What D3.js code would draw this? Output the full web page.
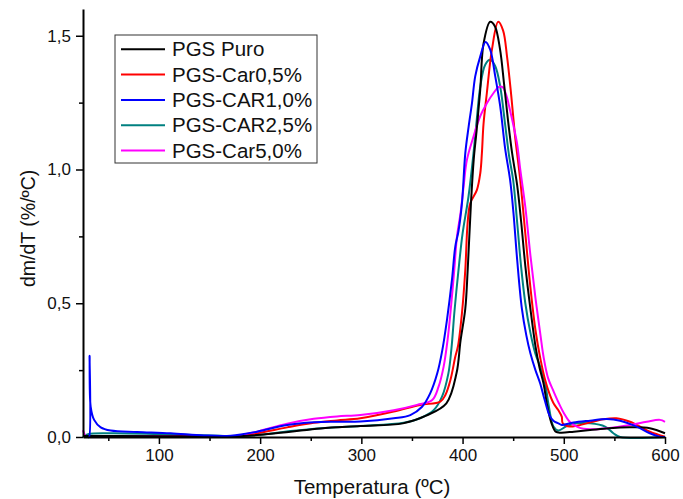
<!DOCTYPE html>
<html>
<head>
<meta charset="utf-8">
<script src="https://cdn.jsdelivr.net/npm/d3@7"></script>
<style>
  body { margin: 0; background: #fff; }
  svg { display: block; font-family: "Liberation Sans", Arial, sans-serif; }
</style>
</head>
<body>
<div id="chart"></div>
<script>
// DTG curves, [temperature ºC, dm/dT %/ºC]
const puro = [[25,0.004],[60,0.004],[100,0.003],[150,0.002],[180,0.003],[200,0.008],[230,0.02],[260,0.032],[299,0.041],[341,0.051],[364,0.08],[384,0.126],[394,0.238],[398,0.36],[402.7,0.48],[405,0.62],[408.3,0.874],[411,1.036],[414,1.15],[417.5,1.3],[420.7,1.47],[427.3,1.552],[432,1.535],[437,1.45],[441,1.32],[445,1.18],[449,1.06],[454,0.94],[458,0.8],[462,0.64],[467,0.48],[472,0.34],[476,0.26],[480,0.2],[484,0.11],[488,0.05],[492,0.02],[497,0.016],[510,0.02],[526,0.026],[545,0.033],[565,0.036],[585,0.033],[600,0.014]];
const car05 = [[25,0.004],[60,0.004],[100,0.003],[150,0.002],[175,0.003],[197,0.014],[226.7,0.036],[253,0.053],[276,0.062],[299,0.07],[332,0.095],[358,0.12],[378,0.132],[383,0.157],[388,0.213],[392.8,0.3],[395.5,0.34],[399.4,0.463],[402.7,0.625],[405,0.8],[407.6,0.874],[414.2,0.924],[417.5,0.986],[419.1,1.061],[420.7,1.17],[424,1.286],[429,1.448],[435.2,1.552],[440,1.52],[444,1.42],[448,1.28],[452,1.12],[457,0.96],[462,0.76],[467,0.56],[472,0.4],[477,0.29],[481.6,0.213],[486,0.16],[490,0.125],[494.7,0.1],[498,0.076],[499,0.051],[506,0.039],[522.7,0.051],[539,0.066],[552,0.07],[565.5,0.057],[585,0.02],[600,0.001]];
const car10 = [[30,0],[31,0],[31.5,0.304],[32.6,0.113],[36,0.064],[42.5,0.036],[52.4,0.024],[78.7,0.019],[111.5,0.014],[144.4,0.006],[171,0.005],[197,0.02],[226.7,0.045],[253,0.055],[276,0.057],[299,0.058],[332,0.07],[348.4,0.082],[360,0.113],[368,0.163],[375,0.238],[380,0.325],[384.6,0.438],[389.5,0.587],[392.8,0.712],[396,0.77],[399.4,0.874],[402.7,1.061],[406,1.16],[409.3,1.248],[412.5,1.348],[417.5,1.423],[422.7,1.477],[427.3,1.448],[432.3,1.348],[437.2,1.236],[442,1.08],[447,0.96],[450.3,0.837],[454,0.66],[458.6,0.48],[463,0.38],[467,0.313],[472,0.25],[476.7,0.2],[481,0.14],[486,0.08],[490,0.06],[494.7,0.051],[498,0.045],[509.5,0.054],[526,0.061],[542.5,0.067],[555.6,0.061],[572,0.039],[585,0.014],[595,0.001],[600,0]];
const car25 = [[25,0],[30,0.01],[50,0.014],[100,0.011],[150,0.006],[180,0.004],[200,0.008],[230,0.022],[260,0.033],[299,0.041],[341.8,0.053],[358,0.07],[371.4,0.1],[379.7,0.151],[386,0.238],[389,0.33],[392,0.47],[396,0.625],[400,0.76],[405.9,0.9],[410.8,1.061],[414,1.186],[417.5,1.31],[422.4,1.392],[427.3,1.41],[432.3,1.386],[437.2,1.31],[442,1.17],[446,1.05],[450,0.96],[454,0.8],[458,0.63],[462,0.5],[467,0.39],[472,0.31],[477,0.26],[481.6,0.2],[485,0.12],[489.8,0.039],[494.7,0.024],[503,0.041],[513,0.051],[526,0.051],[540.8,0.039],[549,0.014],[555.6,0],[600,0]];
const car50 = [[25,0.025],[26.5,0.01],[28,0.003],[60,0.003],[100,0.003],[150,0.002],[175,0.004],[197,0.02],[226.7,0.05],[253,0.068],[276,0.077],[299,0.082],[332,0.1],[355,0.12],[370,0.138],[376.3,0.188],[381.3,0.263],[385.2,0.363],[388,0.463],[391.8,0.625],[394.5,0.75],[398,0.837],[401,0.936],[404.3,1.036],[410.8,1.123],[417.5,1.2],[424,1.248],[430.6,1.286],[435.5,1.308],[439.5,1.308],[443,1.28],[447,1.22],[453.7,1.1],[457,1.0],[462,0.86],[467,0.68],[472,0.52],[477,0.38],[480,0.3],[484.5,0.22],[490,0.17],[494.7,0.13],[500,0.09],[506.3,0.055],[514.5,0.036],[526,0.029],[542.5,0.033],[565.5,0.045],[582,0.057],[595,0.064],[600,0.057]];

const seriesNames = ['PGS Puro', 'PGS-Car0,5%', 'PGS-CAR1,0%', 'PGS-CAR2,5%', 'PGS-Car5,0%'];
const seriesData = [puro, car05, car10, car25, car50];
const seriesColors = ['#000000', '#ff0000', '#0000ff', '#008080', '#ff00ff'];

const xMajor = [100, 200, 300, 400, 500, 600];
const xMinor = [50, 150, 250, 350, 450, 550];
const yMajor = [0, 0.5, 1.0, 1.5];
const yMinor = [0.25, 0.75, 1.25];

const W = 683, H = 499;
const x = d3.scaleLinear().domain([25, 600]).range([83, 665]);
const y = d3.scaleLinear().domain([0, 1.6]).range([437, 9]);
const fmt = d => d3.format('.1f')(d).replace('.', ',');

const svg = d3.select('#chart').append('svg')
  .attr('width', W).attr('height', H);

// Curves
const line = d3.line()
  .x(d => x(d[0])).y(d => y(d[1]))
  .curve(d3.curveCatmullRom.alpha(0.5));

// draw order so overlaps look like the original
[3, 1, 4, 0, 2].forEach(i => {
  svg.append('path')
    .datum(seriesData[i])
    .attr('fill', 'none')
    .attr('stroke', seriesColors[i])
    .attr('stroke-width', 2)
    .attr('stroke-linejoin', 'round')
    .attr('d', line);
});

// Axes
svg.append('g').attr('transform', `translate(0,${y(0)})`)
  .call(d3.axisBottom(x).tickValues(xMajor).tickSize(7).tickPadding(5).tickSizeOuter(0));
svg.append('g').attr('transform', `translate(0,${y(0)})`)
  .call(d3.axisBottom(x).tickValues(xMinor).tickSize(4).tickFormat('').tickSizeOuter(0))
  .select('.domain').remove();

svg.append('g').attr('transform', `translate(${x(25)},0)`)
  .call(d3.axisLeft(y).tickValues(yMajor).tickSize(7).tickPadding(5).tickSizeOuter(0).tickFormat(fmt));
svg.append('g').attr('transform', `translate(${x(25)},0)`)
  .call(d3.axisLeft(y).tickValues(yMinor).tickSize(4).tickFormat('').tickSizeOuter(0))
  .select('.domain').remove();

svg.selectAll('.domain').attr('stroke', '#000').attr('stroke-width', 2);
svg.selectAll('.tick line').attr('stroke', '#000').attr('stroke-width', 1.5);
svg.selectAll('.tick text')
  .attr('font-family', '"Liberation Sans", Arial, sans-serif')
  .attr('font-size', 17).attr('fill', '#111');

// Axis titles
svg.append('text')
  .attr('x', (x(25) + x(600)) / 2 - 2).attr('y', 494)
  .attr('text-anchor', 'middle')
  .attr('font-size', 20.5).attr('fill', '#111')
  .text('Temperatura (ºC)');

svg.append('text')
  .attr('transform', `translate(35,${y(0.78)}) rotate(-90)`)
  .attr('text-anchor', 'middle')
  .attr('font-size', 19.5).attr('fill', '#111')
  .text('dm/dT (%/ºC)');

// Legend
const legend = svg.append('g').attr('transform', 'translate(115,35)');
legend.append('rect')
  .attr('width', 202).attr('height', 128)
  .attr('fill', '#fff').attr('stroke', '#333').attr('stroke-width', 1);

seriesNames.forEach((name, i) => {
  const cy = 14.3 + i * 25.3;
  legend.append('line')
    .attr('x1', 6).attr('x2', 50).attr('y1', cy).attr('y2', cy)
    .attr('stroke', seriesColors[i]).attr('stroke-width', 2);
  legend.append('text')
    .attr('x', 57).attr('y', cy + 7)
    .attr('font-size', 20.5).attr('fill', '#111')
    .text(name);
});
</script>
</body>
</html>
